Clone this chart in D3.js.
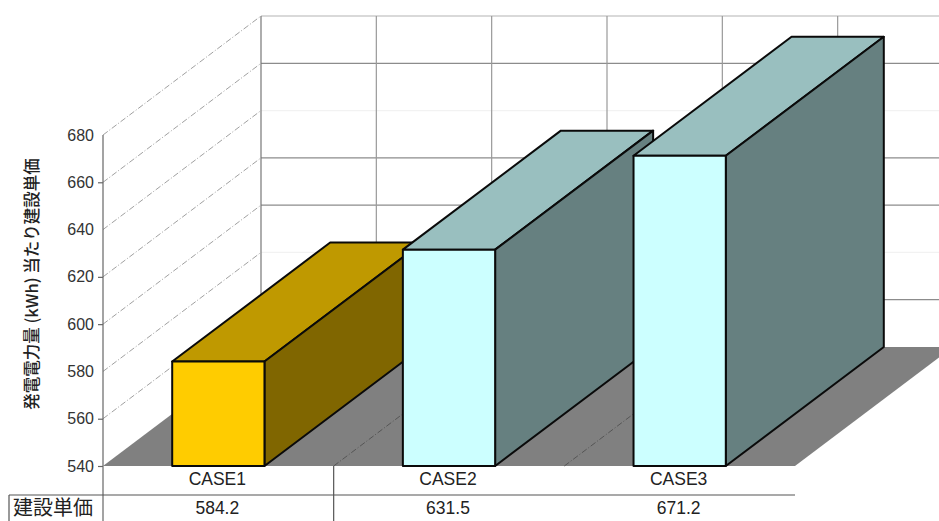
<!DOCTYPE html>
<html>
<head>
<meta charset="utf-8">
<script src="https://cdn.jsdelivr.net/npm/d3@7"></script>
<style>
  html, body { margin: 0; padding: 0; background: #fff; overflow: hidden; }
  svg { display: block; }
  text { font-family: "Liberation Sans", Arial, sans-serif; fill: #222; }
  .cjk { font-family: "Noto Sans CJK JP", sans-serif; }
</style>
</head>
<body>
<svg id="chart" width="939" height="521"></svg>
<script>
// Construction unit cost per unit of generated electricity, three cases
const categories = ["CASE1", "CASE2", "CASE3"];
const values = [584.2, 631.5, 671.2];
const valueLabels = ["584.2", "631.5", "671.2"];
const yTicks = [540, 560, 580, 600, 620, 640, 660, 680];
const lightTicks = [580, 640, 680];
const yTitle = "発電電力量 (kWh) 当たり建設単価";
const rowTitle = "建設単価";
const frontColors = ["#ffcc00", "#ccffff", "#ccffff"];
const topColors = ["#bf9900", "#99bfbf", "#99bfbf"];
const sideColors = ["#806600", "#668080", "#668080"];

const svg = d3.select("#chart");
const width = 939, height = 521;
const plot = { left: 103, right: 795, top: 135, bottom: 466 };
const depth = { dx: 158, dy: -119 };

const y = d3.scaleLinear().domain([540, 680]).range([plot.bottom, plot.top]);
const x = d3.scaleBand().domain(categories).range([plot.left, plot.right])
  .paddingInner(0.6).paddingOuter(0.3);
const slots = d3.scaleLinear().domain([0, 3]).range([plot.left, plot.right]);
const line = d3.line();
const polygon = pts => line(pts) + "Z";

// Back wall grid
const wall = svg.append("g");
yTicks.forEach(t => {
  if (t === 540) return;
  wall.append("line")
    .attr("x1", plot.left + depth.dx).attr("x2", width)
    .attr("y1", y(t) + depth.dy).attr("y2", y(t) + depth.dy)
    .attr("stroke", lightTicks.includes(t) && t !== 680 ? "#f2f2f2" : (t === 680 ? "#b4b4b4" : "#8c8c8c"))
    .attr("stroke-width", 1.2);
});
d3.range(0, 6).forEach(i => {
  const vx = slots(i / 2) + depth.dx;
  wall.append("line")
    .attr("x1", vx).attr("x2", vx)
    .attr("y1", y(680) + depth.dy).attr("y2", y(540) + depth.dy)
    .attr("stroke", i === 0 ? "#777" : "#999")
    .attr("stroke-width", 1.2);
});

// Left wall: dashed lines running back from each tick
yTicks.forEach(t => {
  if (t === 540) return;
  svg.append("line")
    .attr("x1", plot.left).attr("y1", y(t))
    .attr("x2", plot.left + depth.dx).attr("y2", y(t) + depth.dy)
    .attr("stroke", "#888").attr("stroke-width", 0.8)
    .attr("stroke-dasharray", "6 2 1 2");
});

// Floor
svg.append("path")
  .attr("d", polygon([
    [plot.left, plot.bottom], [plot.right, plot.bottom],
    [plot.right + depth.dx, plot.bottom + depth.dy],
    [plot.left + depth.dx, plot.bottom + depth.dy]
  ]))
  .attr("fill", "#808080");
[1, 2].forEach(i => {
  svg.append("line")
    .attr("x1", slots(i)).attr("y1", plot.bottom)
    .attr("x2", slots(i) + depth.dx).attr("y2", plot.bottom + depth.dy)
    .attr("stroke", "#4a4a4a").attr("stroke-width", 0.8)
    .attr("stroke-dasharray", "6 2 1 2");
});

// Extruded bars, left to right so each front covers its neighbour's side
const bars = svg.selectAll("g.bar").data(categories).join("g").attr("class", "bar");
bars.each(function (c, i) {
  const g = d3.select(this);
  const x0 = x(c), x1 = x0 + x.bandwidth();
  const yTop = y(values[i]), yBase = y(540);
  const faces = [
    [topColors[i], [[x0, yTop], [x1, yTop], [x1 + depth.dx, yTop + depth.dy], [x0 + depth.dx, yTop + depth.dy]]],
    [sideColors[i], [[x1, yTop], [x1 + depth.dx, yTop + depth.dy], [x1 + depth.dx, yBase + depth.dy], [x1, yBase]]],
    [frontColors[i], [[x0, yTop], [x1, yTop], [x1, yBase], [x0, yBase]]]
  ];
  faces.forEach(([fill, pts]) => {
    g.append("path").attr("d", polygon(pts))
      .attr("fill", fill).attr("stroke", "#0a0a0a")
      .attr("stroke-width", 2).attr("stroke-linejoin", "round");
  });
});

// Value axis
const axis = d3.axisLeft(y).tickValues(yTicks).tickSize(5).tickPadding(4).tickFormat(d3.format("d"));
const axisG = svg.append("g").attr("transform", `translate(${plot.left},0)`).call(axis);
axisG.select(".domain").remove();
axisG.selectAll(".tick line").attr("stroke", d => lightTicks.includes(d) ? "none" : "#666").attr("stroke-width", 1.2);
axisG.selectAll(".tick text").style("font-size", "16px")
  .attr("font-family", "Liberation Sans").style("fill", "#333");

svg.append("text").attr("class", "cjk")
  .attr("transform", "translate(38,284) rotate(-90)")
  .attr("text-anchor", "middle")
  .attr("font-size", 16.5).attr("font-weight", 500)
  .text(yTitle);

// Data table under the plot
const rule = "#555";
svg.append("line").attr("x1", plot.left).attr("x2", plot.left).attr("y1", plot.top).attr("y2", height)
  .attr("stroke", "#666").attr("stroke-width", 1.2);
svg.append("line").attr("x1", 9).attr("x2", plot.right).attr("y1", 495).attr("y2", 495)
  .attr("stroke", rule).attr("stroke-width", 1.2);
svg.append("line").attr("x1", 9).attr("x2", 9).attr("y1", 495).attr("y2", height)
  .attr("stroke", rule).attr("stroke-width", 1.2);
svg.append("line").attr("x1", slots(1)).attr("x2", slots(1)).attr("y1", plot.bottom).attr("y2", height)
  .attr("stroke", rule).attr("stroke-width", 1.2);

categories.forEach((c, i) => {
  const cx = x(c) + x.bandwidth() / 2 - 1;
  svg.append("text").attr("x", cx).attr("y", 485)
    .attr("text-anchor", "middle").attr("font-size", 17.5).text(c);
  svg.append("text").attr("x", cx).attr("y", 514)
    .attr("text-anchor", "middle").attr("font-size", 17.5).text(valueLabels[i]);
});
svg.append("text").attr("class", "cjk")
  .attr("x", 53).attr("y", 515)
  .attr("text-anchor", "middle").attr("font-size", 20).text(rowTitle);
</script>
</body>
</html>
